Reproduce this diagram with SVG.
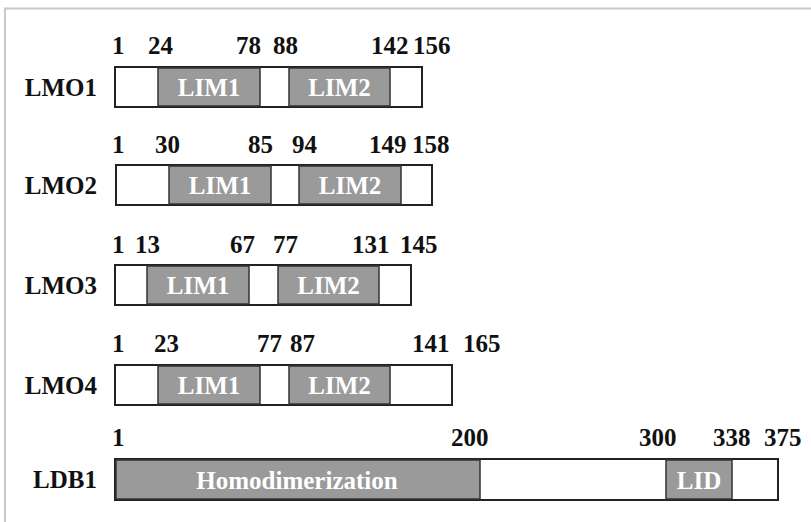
<svg xmlns="http://www.w3.org/2000/svg" width="811" height="522" viewBox="0 0 811 522">
<style>
.frame{stroke:#c8c8c8;stroke-width:2;fill:none}
.box{fill:#fff;stroke:#222;stroke-width:2}
.dom{fill:#9a9a9a;stroke:#333;stroke-width:1.5}
.num{font-family:"Liberation Serif","Times New Roman",serif;font-weight:bold;font-size:25px;fill:#111}
.lbl{font-family:"Liberation Serif","Times New Roman",serif;font-weight:bold;font-size:25px;fill:#111;text-anchor:end}
.dt{font-family:"Liberation Serif","Times New Roman",serif;font-weight:bold;font-size:25px;fill:#fff;text-anchor:middle}
</style>
<rect width="811" height="522" fill="#fff"/>
<path class="frame" d="M5,522 V8.5 H811"/>

<g id="LMO1">
<rect class="box" x="115" y="67" width="307" height="40"/>
<rect class="dom" x="158" y="68" width="102" height="38"/>
<rect class="dom" x="289" y="68" width="101" height="38"/>
<text class="lbl" x="97" y="96">LMO1</text>
<text class="dt" x="209" y="96">LIM1</text>
<text class="dt" x="339.5" y="96">LIM2</text>
<text class="num" x="112" y="54">1</text>
<text class="num" x="148" y="54">24</text>
<text class="num" x="236" y="54">78</text>
<text class="num" x="273" y="54">88</text>
<text class="num" x="371" y="54">142</text>
<text class="num" x="413" y="54">156</text>
</g>

<g id="LMO2">
<rect class="box" x="116" y="165" width="316" height="40"/>
<rect class="dom" x="169" y="166" width="102" height="38"/>
<rect class="dom" x="299" y="166" width="102" height="38"/>
<text class="lbl" x="97" y="194">LMO2</text>
<text class="dt" x="220" y="194">LIM1</text>
<text class="dt" x="350" y="194">LIM2</text>
<text class="num" x="112" y="153">1</text>
<text class="num" x="155" y="153">30</text>
<text class="num" x="248" y="153">85</text>
<text class="num" x="292" y="153">94</text>
<text class="num" x="369" y="153">149</text>
<text class="num" x="412" y="153">158</text>
</g>

<g id="LMO3">
<rect class="box" x="115" y="265" width="296" height="40"/>
<rect class="dom" x="147" y="266" width="102" height="38"/>
<rect class="dom" x="278" y="266" width="101" height="38"/>
<text class="lbl" x="97" y="294">LMO3</text>
<text class="dt" x="198" y="294">LIM1</text>
<text class="dt" x="328.5" y="294">LIM2</text>
<text class="num" x="112" y="253">1</text>
<text class="num" x="135" y="253">13</text>
<text class="num" x="230" y="253">67</text>
<text class="num" x="273" y="253">77</text>
<text class="num" x="352" y="253">131</text>
<text class="num" x="400" y="253">145</text>
</g>

<g id="LMO4">
<rect class="box" x="115" y="365" width="337" height="40"/>
<rect class="dom" x="158" y="366" width="102" height="38"/>
<rect class="dom" x="289" y="366" width="101" height="38"/>
<text class="lbl" x="97" y="394">LMO4</text>
<text class="dt" x="209" y="394">LIM1</text>
<text class="dt" x="339.5" y="394">LIM2</text>
<text class="num" x="112" y="352">1</text>
<text class="num" x="154" y="352">23</text>
<text class="num" x="257" y="352">77</text>
<text class="num" x="290" y="352">87</text>
<text class="num" x="412" y="352">141</text>
<text class="num" x="463" y="352">165</text>
</g>

<g id="LDB1">
<rect class="box" x="115" y="459" width="663" height="41"/>
<rect class="dom" x="116" y="460" width="364" height="39"/>
<rect class="dom" x="666" y="460" width="66" height="39"/>
<text class="lbl" x="97" y="488">LDB1</text>
<text class="dt" x="297" y="489">Homodimerization</text>
<text class="dt" x="699" y="489">LID</text>
<text class="num" x="112" y="446">1</text>
<text class="num" x="451" y="446">200</text>
<text class="num" x="639" y="446">300</text>
<text class="num" x="713" y="446">338</text>
<text class="num" x="764" y="446">375</text>
</g>

<g id="connectors"></g>
</svg>
